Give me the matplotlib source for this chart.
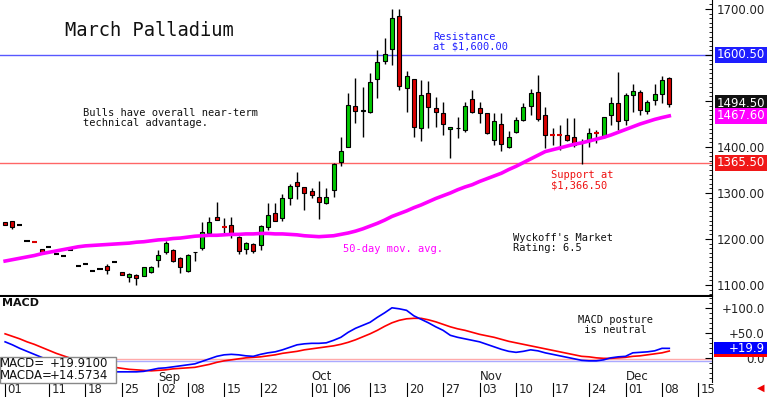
import numpy as np
import pandas as pd
import matplotlib
matplotlib.use('Agg')
import matplotlib.pyplot as plt
import matplotlib.transforms as mtransforms
from matplotlib.patches import Rectangle

# sessions on the chart (Labor Day is skipped)
session_days = pd.bdate_range('2025-08-01', '2025-12-15').drop(pd.Timestamp('2025-09-01'))

opens = [1236, 1238, 1230, 1196, 1193.5, 1178, 1183, 1167, 1164, 1176,
         1141, 1146, 1131, 1135, 1142, 1150, 1128, 1117, 1122, 1120,
         1128, 1154, 1172, 1176, 1159, 1130, 1171, 1180, 1213, 1248,
         1227.5, 1230, 1204, 1178, 1189, 1187, 1225, 1257, 1245, 1288,
         1324, 1314, 1305, 1292, 1279, 1307, 1368, 1401, 1490, 1478,
         1475, 1548, 1587, 1612, 1685, 1528, 1548, 1442, 1517, 1485,
         1473, 1440, 1441, 1438, 1504, 1484, 1473, 1415, 1449, 1401,
         1433, 1459, 1490, 1520, 1470, 1426.5, 1426.5, 1426, 1421, 1408.5,
         1414, 1431.5, 1421, 1470, 1496, 1459, 1513, 1520, 1479, 1502,
         1515, 1551]
highs = [1237, 1239, 1230, 1196, 1193.5, 1179, 1183, 1167, 1164, 1176,
         1141, 1146, 1131, 1135, 1145, 1150, 1129, 1126, 1123, 1140,
         1141, 1176, 1196, 1178, 1161, 1167, 1172, 1237, 1248, 1281,
         1246, 1248, 1206, 1193, 1191, 1230, 1278, 1279, 1297, 1319,
         1346, 1314, 1310, 1327, 1310, 1366, 1422, 1518, 1551, 1531,
         1560, 1611, 1636, 1701, 1699, 1565, 1548, 1546, 1543, 1509,
         1498, 1444, 1465, 1498, 1524, 1498, 1473, 1473, 1473, 1435,
         1466, 1496, 1525, 1557, 1488, 1441, 1448, 1464, 1462, 1417,
         1441, 1437, 1466, 1509, 1564, 1517, 1536, 1524, 1502, 1538,
         1555, 1553]
lows = [1230, 1221, 1230, 1196, 1193, 1169, 1183, 1167, 1164, 1176,
        1141, 1146, 1131, 1135, 1124, 1150, 1121, 1107, 1100, 1119,
        1125, 1139, 1167, 1150, 1126, 1128, 1152, 1176, 1211, 1241,
        1209, 1202, 1167, 1167, 1170, 1176, 1220, 1238, 1238, 1274,
        1286, 1263, 1290, 1243, 1277, 1292, 1359, 1399, 1453, 1422,
        1473, 1507, 1580, 1578, 1524, 1477, 1421, 1412, 1441, 1444,
        1426, 1375, 1420, 1432, 1473, 1453, 1428, 1404, 1391, 1397,
        1431, 1457, 1470, 1457, 1397, 1404, 1393, 1412, 1399, 1363,
        1399, 1408, 1419, 1448, 1437, 1448, 1477, 1470, 1471, 1491,
        1495, 1488]
closes = [1231, 1226, 1230, 1196, 1193, 1169, 1183, 1167, 1164, 1176,
          1141, 1146, 1131, 1135, 1133, 1150, 1122, 1124, 1116, 1139,
          1139, 1165, 1191, 1152, 1139, 1165, 1172, 1215, 1237, 1241,
          1227, 1211, 1174, 1191, 1174, 1228, 1252, 1240, 1288, 1316,
          1315, 1299, 1295, 1281, 1292, 1363, 1391, 1491, 1478, 1479.5,
          1542, 1584, 1602, 1680, 1533, 1554, 1444, 1513, 1488, 1477,
          1451, 1444, 1442, 1490, 1475, 1473, 1430, 1457, 1407, 1422,
          1459, 1488, 1518, 1460, 1426, 1426, 1426, 1415, 1404, 1408,
          1431, 1431, 1465, 1496, 1457, 1513, 1522, 1480, 1498, 1515,
          1546, 1494.5]

ma50 = [1152, 1155, 1158, 1161, 1164, 1168, 1171, 1174, 1177, 1180,
        1183, 1185, 1186, 1187, 1188, 1189, 1190, 1191, 1193, 1194,
        1196, 1198, 1199, 1201, 1202, 1204, 1206, 1207, 1208, 1208,
        1209, 1210, 1210, 1211, 1211, 1212, 1212, 1211, 1211, 1210,
        1209, 1207, 1206, 1205, 1206, 1207, 1210, 1213, 1217, 1222,
        1228, 1234, 1241, 1249, 1255, 1261, 1268, 1274, 1281, 1288,
        1294, 1300, 1307, 1313, 1318, 1325, 1331, 1337, 1343, 1351,
        1358, 1366, 1374, 1382, 1390, 1394, 1398, 1402, 1406, 1409,
        1413, 1417, 1421, 1426, 1432, 1438, 1444, 1450, 1455, 1460,
        1464, 1467.6]

macd = [33, 27, 20, 14, 8, 2, -4, -9, -14, -18,
        -21, -24, -26, -27, -27, -27, -27, -27, -27, -26,
        -23, -20, -19, -17, -15, -13, -11, -6, -1, 4,
        7, 8, 7, 5, 4, 8, 11, 13, 17, 22,
        27, 29, 30, 30, 31, 36, 42, 52, 60, 66,
        72, 82, 91, 101, 99, 96, 85, 78, 71, 63,
        56, 46, 42, 39, 36, 33, 28, 23, 18, 14,
        12, 14, 17, 15, 11, 8, 5, 2, -1, -4,
        -5, -5, -3, 1, 3, 4, 11, 12, 13, 15,
        20, 19.91]
macda = [49, 44, 39, 33, 28, 22, 16, 10, 5, 0,
         -4, -8, -11, -14, -16, -18, -20, -22, -23, -24,
         -25, -24, -23, -21, -20, -19, -18, -15, -12, -8,
         -5, -3, -1, 1, 2, 3, 5, 7, 10, 12,
         14, 17, 19, 21, 23, 25, 28, 32, 37, 43,
         49, 56, 64, 71, 76, 79, 80, 80, 77, 73,
         68, 63, 59, 56, 52, 48, 45, 42, 38, 34,
         31, 28, 25, 22, 19, 16, 13, 10, 7, 4,
         3, 1, 0, 0, 1, 2, 4, 5, 7, 9,
         11, 14.5734]

tick_days = ['2025-08-01', '2025-08-11', '2025-08-18', '2025-08-25', '2025-09-02',
             '2025-09-08', '2025-09-15', '2025-09-22', '2025-10-01', '2025-10-06',
             '2025-10-13', '2025-10-20', '2025-10-27', '2025-11-03', '2025-11-10',
             '2025-11-17', '2025-11-24', '2025-12-01', '2025-12-08', '2025-12-15']
month_names = ['Sep', 'Oct', 'Nov', 'Dec']
month_starts = ['2025-09-02', '2025-10-01', '2025-11-03', '2025-12-01']

price_ticks = [1100, 1200, 1300, 1400, 1500, 1600, 1700]
price_tick_labels = ['1100.00', '1200.00', '1300.00', '1400.00', '', '', '1700.00']
macd_ticks = [0, 50, 100]
macd_tick_labels = ['0.0', '+50.0', '+100.0']

resistance = 1600.50
support = 1365.50

GREEN = '#00c800'
RED = '#d80000'
MAGENTA = '#ff00ff'
BLUE = '#0000ff'
RES_BLUE = '#5858ff'
SUP_RED = '#ff6666'

W, H = 768, 397


def fx(px):
    return px / W


def fy(py):
    return 1 - py / H


fig = plt.figure(figsize=(7.68, 3.97), dpi=100)
ax = fig.add_axes([0, fy(296), fx(712), 296 / H])
ax2 = fig.add_axes([0, fy(382), fx(712), (382 - 297) / H])

x = np.arange(len(closes))
o = np.array(opens)
c = np.array(closes)
hi = np.array(highs)
lo = np.array(lows)

# wicks
ax.vlines(x, lo, hi, color='black', lw=1, zorder=3)
# bodies
body = np.abs(c - o) >= 1
up = c > o
cols = np.where(up, GREEN, RED)
ax.bar(x[body], np.abs(c - o)[body], bottom=np.minimum(o, c)[body], width=0.55,
       color=cols[body], edgecolor='black', lw=0.8, zorder=4)
# dashes (open ~ close)
dash_cols = np.where(c > o, GREEN, np.where(c < o, RED, 'black'))
for i in x[~body]:
    ax.hlines(c[i], i - 0.35, i + 0.35, color=dash_cols[i], lw=1.5, zorder=4)

ax.plot(x, ma50, color=MAGENTA, lw=2.6, zorder=5)
ax.axhline(resistance, color=RES_BLUE, lw=1, zorder=1)
ax.axhline(support, color=SUP_RED, lw=1, zorder=1)

xlim = (-0.7, 96.85)
ax.set_xlim(*xlim)
ax.set_ylim(1076, 1719.6)
ax.set_xticks([])
for s in ['left', 'top']:
    ax.spines[s].set_visible(False)
ax.spines['bottom'].set_linewidth(1.5)
ax.yaxis.tick_right()
ax.set_yticks(price_ticks)
ax.set_yticklabels(price_tick_labels)
ax.set_yticks(np.arange(1080, 1720, 10), minor=True)
ax.tick_params(axis='y', which='major', direction='in', length=5, pad=38,
               labelsize=8.5, labelcolor='#222222')
ax.tick_params(axis='y', which='minor', direction='in', length=2.5)
for lab in ax.get_yticklabels():
    lab.set_horizontalalignment('right')

# value boxes on the price scale
trans = mtransforms.blended_transform_factory(ax.transAxes, ax.transData)
boxes = [(resistance, '%.2f' % resistance, '#1e1eff'),
         (closes[-1], '%.2f' % closes[-1], '#111111'),
         (ma50[-1], '%.2f' % ma50[-1], MAGENTA),
         (support, '%.2f' % support, '#f01818')]
for val, txt, col in boxes:
    ax.text(765 / 712, val, txt, transform=trans, ha='right', va='center',
            fontsize=8.5, color='white', zorder=10,
            bbox=dict(boxstyle='square,pad=0.15', fc=col, ec='none'))

# MACD panel
ax2.plot(x, macda, color='#ff0000', lw=1.2, zorder=3)
ax2.plot(x, macd, color=BLUE, lw=1.2, zorder=4)
ax2.axhline(-1, color='#ffaaaa', lw=1, zorder=1)
ax2.axhline(-5, color='#aaaaff', lw=1, zorder=1)
ax2.set_xlim(*xlim)
ax2.set_ylim(-47.3, 122.6)
ax2.set_xticks([])
for s in ['left', 'top', 'bottom']:
    ax2.spines[s].set_visible(False)
ax2.yaxis.tick_right()
ax2.set_yticks(macd_ticks)
ax2.set_yticklabels(macd_tick_labels)
ax2.set_yticks(np.arange(-40, 121, 10), minor=True)
ax2.tick_params(axis='y', which='major', direction='in', length=5, pad=38,
                labelsize=8.5, labelcolor='#222222')
ax2.tick_params(axis='y', which='minor', direction='in', length=2.5)
for lab in ax2.get_yticklabels():
    lab.set_horizontalalignment('right')

trans2 = mtransforms.blended_transform_factory(ax2.transAxes, ax2.transData)
# MACDA marker sits mostly behind the MACD one, only its red edge shows
ax2.add_patch(Rectangle((714 / 712, macda[-1] - 12), 53 / 712, 24, transform=trans2,
                        fc='#ff0000', ec='none', clip_on=False, zorder=10))
ax2.add_patch(Rectangle((714 / 712, macd[-1] - 12), 53 / 712, 24, transform=trans2,
                        fc='#0000ff', ec='none', clip_on=False, zorder=11))
ax2.text(765 / 712, macd[-1], '%+.1f' % macd[-1], transform=trans2, ha='right',
         va='center', fontsize=8.5, color='white', zorder=12)

# date axis
tb = mtransforms.blended_transform_factory(ax2.transData, ax2.transAxes)
y_top = (382 - 383) / 85
y_bot = (382 - 397) / 85
for d in tick_days:
    i = session_days.get_loc(pd.Timestamp(d))
    ax2.plot([i, i], [y_top, y_bot], color='black', lw=0.8, transform=tb, clip_on=False)
    ax2.text(i + 0.35, (382 - 389.5) / 85, pd.Timestamp(d).strftime('%d'), transform=tb,
             ha='left', va='center', fontsize=8.5, color='#222222')
for name, d in zip(month_names, month_starts):
    i = session_days.get_loc(pd.Timestamp(d))
    ax2.text(i, (382 - 377) / 85, name, transform=tb, ha='left', va='center',
             fontsize=8.5, color='#222222')

# texts
mono = 'DejaVu Sans Mono'
fig.text(fx(65), fy(30), 'March Palladium', family=mono, fontsize=13.5, va='center',
         color='#111111')
fig.text(fx(433), fy(42), 'Resistance\nat $1,600.00', family=mono, fontsize=7.5,
         va='center', color='#2020ff', linespacing=0.95)
fig.text(fx(83), fy(118), 'Bulls have overall near-term\ntechnical advantage.', family=mono,
         fontsize=7.5, va='center', color='#111111', linespacing=1.1)
fig.text(fx(551), fy(180), 'Support at\n$1,366.50', family=mono, fontsize=7.5,
         va='center', color='#ee1111', linespacing=1.0)
fig.text(fx(513), fy(243), "Wyckoff's Market\nRating: 6.5", family=mono, fontsize=7.5,
         va='center', color='#111111', linespacing=1.0)
fig.text(fx(343), fy(249), '50-day mov. avg.', family=mono, fontsize=7.5,
         va='center', color=MAGENTA)
fig.text(fx(578), fy(325), 'MACD posture\n is neutral', family=mono, fontsize=7.5,
         va='center', color='#111111', linespacing=1.0)
fig.text(fx(2), fy(303), 'MACD', fontsize=8, fontweight='bold', va='center', color='#111111')

# readout box
fig.patches.append(Rectangle((0, fy(383)), fx(116), (383 - 357) / H, transform=fig.transFigure,
                             fc='white', ec='#888888', lw=1, zorder=5))
fig.text(fx(0), fy(363.5), 'MACD=', fontsize=8.5, va='center', color='#111111', zorder=6)
fig.text(fx(50), fy(363.5), '%+.4f' % macd[-1], fontsize=8.5, va='center', color='#111111', zorder=6)
fig.text(fx(0), fy(375.5), 'MACDA=', fontsize=8.5, va='center', color='#111111', zorder=6)
fig.text(fx(50), fy(375.5), '%+.4f' % macda[-1], fontsize=8.5, va='center', color='#111111', zorder=6)

fig.text(fx(761), fy(388), '\u25c0', fontsize=7, color='#ee0000', ha='center', va='center')

fig.savefig('out.png', dpi=100)
